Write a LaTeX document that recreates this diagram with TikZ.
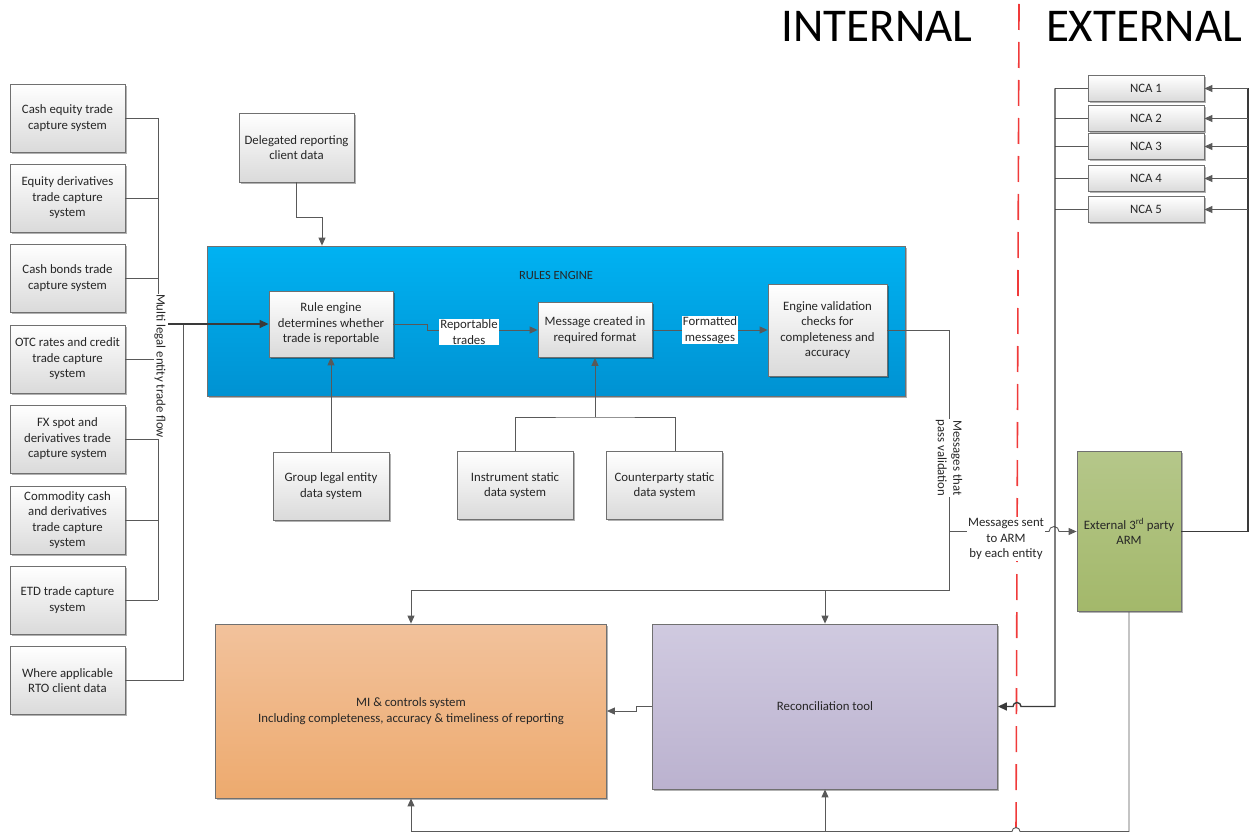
\documentclass[tikz,border=0pt]{standalone}
\usepackage{fontspec}
\setmainfont{Carlito}
\usetikzlibrary{arrows.meta,shadows}
\definecolor{ln}{HTML}{595959}
\definecolor{dk}{HTML}{3A3A3A}
\definecolor{boxb}{HTML}{707070}
\definecolor{boxg}{HTML}{DADADA}
\definecolor{txt}{HTML}{262626}
\definecolor{rtop}{HTML}{00B2F2}
\definecolor{rbot}{HTML}{0092D2}
\definecolor{gtop}{HTML}{B5C78A}
\definecolor{gbot}{HTML}{A3B86A}
\definecolor{otop}{HTML}{F2C29C}
\definecolor{obot}{HTML}{EDAA6E}
\definecolor{ptop}{HTML}{D0CAE0}
\definecolor{pbot}{HTML}{BBB2CF}
\definecolor{redl}{HTML}{F03A3A}
\begin{document}
\begin{tikzpicture}[x=1pt,y=-1pt,
  f11/.style={font=\fontsize{12.8}{15.5}\selectfont},
  box/.style={draw=boxb, line width=0.8pt, top color=white, bottom color=boxg,
    align=center, f11, text=txt, inner sep=2pt,
    drop shadow={shadow xshift=1.6pt, shadow yshift=-1.6pt, opacity=0.3, fill=black}},
  big/.style={draw=boxb, line width=0.8pt, align=center, f11, text=txt,
    drop shadow={shadow xshift=1.6pt, shadow yshift=-1.6pt, opacity=0.3, fill=black}},
  conn/.style={draw=ln, line width=0.9pt},
  thick conn/.style={draw=dk, line width=1.4pt},
  arr/.style={conn, -{Triangle[length=8pt,width=7pt]}},
  thick arr/.style={thick conn, -{Triangle[length=9pt,width=8pt]}},
  lbl/.style={fill=white, inner sep=1pt, align=center, f11, text=txt},
  title/.style={font=\fontsize{47}{50}\selectfont, text=black}
]
\useasboundingbox (0,0) rectangle (1250,832);

% titles
\node[title] (tint) at (877,26) {INTERNAL};
\node[title] (text) at (1144,26) {EXTERNAL};

% red dashed boundary
\coordinate (rtopc) at (1019,4);
\coordinate (rbotc) at (1016,832);
\draw[redl, line width=1.6pt, dash pattern=on 26pt off 12pt] (rtopc) -- (rbotc);

% left systems
\foreach \n/\y/\t in {b1/118/{Cash equity trade\\capture system},
  b2/198/{Equity derivatives\\trade capture\\system},
  b3/278/{Cash bonds trade\\capture system},
  b4/359/{OTC rates and credit\\trade capture\\system},
  b5/439/{FX spot and\\derivatives trade\\capture system},
  b6/520/{Commodity cash\\and derivatives\\trade capture\\system},
  b7/600/{ETD trade capture\\system},
  b8/680.5/{Where applicable\\RTO client data}}
  \node[box, minimum width=115pt, minimum height=68pt] (\n) at (67.5,\y) {\t};

\coordinate (bus) at (158,0);
\foreach \n in {b1,b2,b3,b4,b5,b6,b7}
  \draw[conn] (\n.east) -- (\n.east -| bus);
\draw[conn] (b1.east -| bus) -- (b7.east -| bus);
\coordinate (rtoj) at (183,324);
\draw[conn] (b8.east) -| (rtoj);
\node[lbl, rotate=-90, inner sep=0.5pt] (flow) at (160,366) {Multi legal entity trade flow};

% delegated
\node[box, minimum width=115pt, minimum height=69pt] (deleg) at (296.5,147.5) {Delegated reporting\\client data};

% rules engine
\node[big, top color=rtop, bottom color=rbot, minimum width=698pt, minimum height=150pt] (rules) at (556,321) {};
\node[font=\fontsize{12.5}{14}\selectfont, text=black!85] (rtitle) at (556,275) {RULES ENGINE};

\coordinate (dkc) at (322,217);
\draw[arr] (deleg.south) |- (dkc) -- (dkc |- rules.north);

\node[box, minimum width=124pt, minimum height=66pt] (rule) at (331,324) {Rule engine\\determines whether\\trade is reportable};
\node[box, minimum width=114pt, minimum height=55pt] (msg) at (595,330) {Message created in\\required format};
\node[box, minimum width=119pt, minimum height=92pt] (val) at (827.5,330) {Engine validation\\checks for\\completeness and\\accuracy};

\coordinate (flowout) at (168,324);
\draw[thick arr] (flowout) -- (rule.west);

\coordinate (j1) at (427,324);
\coordinate (j2) at (427,330);
\draw[arr] (rule.east) -- (j1) -- (j2) -- (msg.west);
\node[lbl] (reptr) at (469,332) {Reportable\\trades};
\draw[arr] (msg.east) -- (val.west);
\node[lbl] (fmt) at (710,330) {Formatted\\messages};

% data systems
\node[box, minimum width=116pt, minimum height=68pt] (grp) at (331,486) {Group legal entity\\data system};
\node[box, minimum width=116pt, minimum height=68pt] (inst) at (515,485.5) {Instrument static\\data system};
\node[box, minimum width=116pt, minimum height=68pt] (cpty) at (664.5,485.5) {Counterparty static\\data system};
\draw[arr] (grp.north) -- (rule.south);
\coordinate (sj) at (595,417);
\coordinate (cpj) at (675,417);
\draw[conn] (inst.north) |- (sj) -- (cpj) -- (cpj |- cpty.north);
\draw[arr] (sj) -- (msg.south);

% lower boxes
\node[big, top color=otop, bottom color=obot, minimum width=391pt, minimum height=174pt] (mi) at (411,711)
  {MI \& controls system\\Including completeness, accuracy \& timeliness of reporting};
\node[big, top color=ptop, bottom color=pbot, minimum width=345pt, minimum height=165pt] (rec) at (825,706.5)
  {Reconciliation tool};

% validation outputs
\coordinate (v1) at (949,330);
\coordinate (v2) at (949,590);
\coordinate (v3) at (411,590);
\coordinate (v4) at (825,590);
\coordinate (v5) at (949,531.5);
\draw[conn] (val.east) -- (v1) -- (v2) -- (v3);
\draw[arr] (v3) -- (mi.north);
\draw[arr] (v4) -- (rec.north);
\node[lbl, rotate=-90] (pass) at (949,458) {Messages that\\pass validation};

% ARM
\node[big, top color=gtop, bottom color=gbot, minimum width=104pt, minimum height=160pt] (arm) at (1129,531.5)
  {External 3\textsuperscript{rd} party\\ARM};

\coordinate (jmp1) at (1049,531.5);
\draw[arr] (v5) -- (jmp1) arc[start angle=180, end angle=0, radius=5pt] -- (arm.west);
\node[lbl] (sent) at (1006,539) {Messages sent\\to ARM\\by each entity};

% NCAs
\foreach \n/\y/\t in {n1/88.5/{NCA 1}, n2/118.5/{NCA 2}, n3/146.5/{NCA 3}, n4/178.5/{NCA 4}, n5/209.5/{NCA 5}}
  \node[box, minimum width=116pt, minimum height=26pt] (\n) at (1146,\y) {\t};

\coordinate (rb) at (1248,0);
\coordinate (lb) at (1055,0);
\draw[thick conn] (arm.east) -| (n1.east -| rb);
\foreach \n in {n1,n2,n3,n4,n5} {
  \draw[arr] (\n.east -| rb) -- (\n.east);
  \draw[conn] (\n.west) -- (\n.west -| lb);
}
\coordinate (lbb) at (1055,706.5);
\coordinate (jmp2) at (1021,706.5);
\draw[thick arr] (n1.west -| lb) -- (lbb) -- (jmp2) arc[start angle=0, end angle=180, radius=4pt] -- (rec.east);

% recon -> MI
\coordinate (r1) at (636,706.5);
\coordinate (r2) at (636,711);
\draw[arr] (rec.west) -- (r1) -- (r2) -- (mi.east);

% ARM bottom feedback
\coordinate (a1) at (1129,831.5);
\coordinate (jmp3) at (1020,831.5);
\coordinate (a2) at (411,831.5);
\coordinate (a3) at (825,831.5);
\draw[conn] (arm.south) -- (a1) -- (jmp3) arc[start angle=0, end angle=180, radius=4pt] -- (a2);
\draw[arr] (a2) -- (mi.south);
\draw[arr] (a3) -- (rec.south);
\end{tikzpicture}
\end{document}
